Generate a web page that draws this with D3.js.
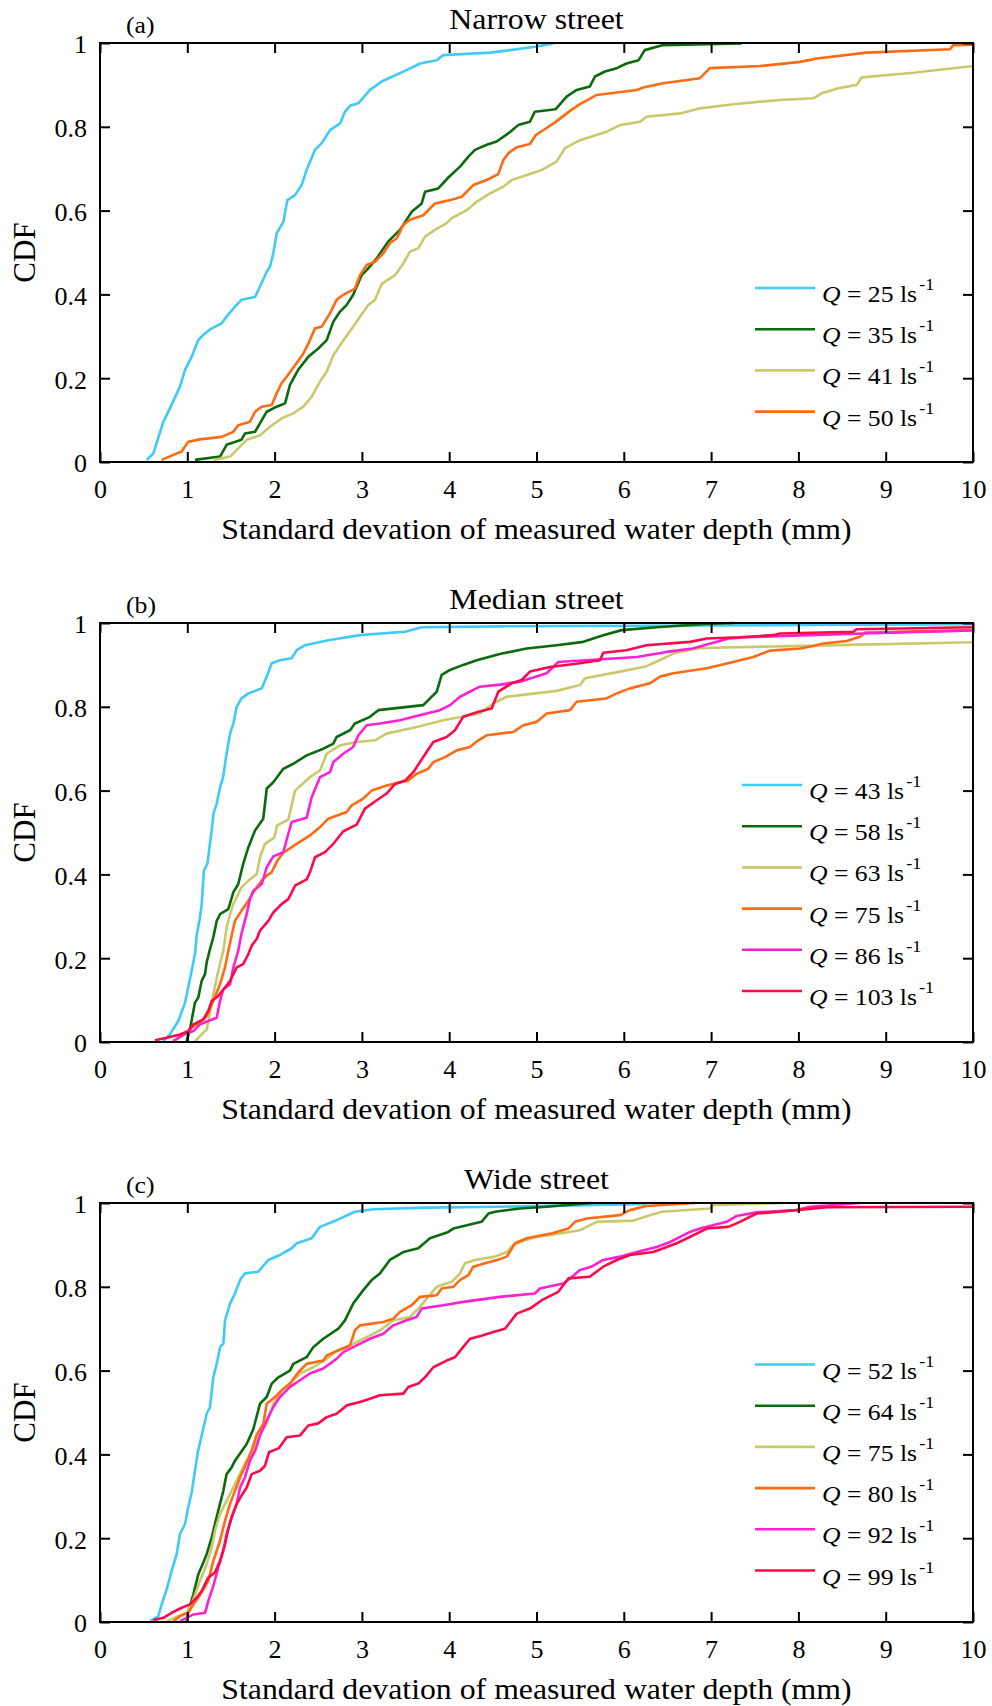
<!DOCTYPE html>
<html>
<head>
<meta charset="utf-8">
<script src="https://cdn.jsdelivr.net/npm/d3@7"></script>
<style>
  html, body { margin: 0; padding: 0; background: #fff; }
  svg text { font-family: "Liberation Serif", "Times New Roman", serif; fill: #000; }
</style>
</head>
<body>
<svg id="chart" width="992" height="1706"></svg>
<script>
// ---------------- DATA ----------------
const xTicks = [0, 1, 2, 3, 4, 5, 6, 7, 8, 9, 10];
const xTickLabels = ["0", "1", "2", "3", "4", "5", "6", "7", "8", "9", "10"];
const yTicks = [0, 0.2, 0.4, 0.6, 0.8, 1];
const yTickLabels = ["0", "0.2", "0.4", "0.6", "0.8", "1"];

const panelLetters = ["(a)", "(b)", "(c)"];
const panelTitles = ["Narrow street", "Median street", "Wide street"];
const xAxisTitle = "Standard devation of measured water depth (mm)";
const yAxisTitle = "CDF";

// Panel (a) Narrow street
const narrowQ = [25, 35, 41, 50];
const narrow25 = [[0.535,0.005],[0.61,0.02],[0.725,0.096],[0.76,0.11],[0.916,0.18],[0.974,0.22],[1.05,0.251],[1.126,0.291],[1.18,0.303],[1.28,0.319],[1.394,0.331],[1.45,0.347],[1.546,0.371],[1.62,0.387],[1.776,0.394],[1.813,0.41],[1.91,0.454],[1.947,0.466],[1.985,0.498],[2.024,0.546],[2.10,0.573],[2.146,0.625],[2.234,0.637],[2.31,0.661],[2.367,0.697],[2.463,0.745],[2.54,0.761],[2.635,0.792],[2.75,0.808],[2.806,0.836],[2.864,0.85],[2.959,0.856],[3.093,0.888],[3.226,0.908],[3.436,0.928],[3.589,0.943],[3.665,0.951],[3.857,0.959],[3.932,0.971],[4.467,0.977],[4.70,0.983],[4.98,0.991],[5.19,0.999]];
const narrow35 = [[1.088,0.005],[1.375,0.013],[1.45,0.041],[1.62,0.053],[1.66,0.068],[1.776,0.072],[1.91,0.12],[2.024,0.132],[2.12,0.14],[2.176,0.184],[2.27,0.22],[2.386,0.251],[2.50,0.271],[2.597,0.291],[2.673,0.335],[2.75,0.359],[2.826,0.375],[2.90,0.399],[2.997,0.446],[3.055,0.458],[3.17,0.486],[3.30,0.526],[3.436,0.554],[3.57,0.597],[3.685,0.617],[3.723,0.645],[3.875,0.653],[3.99,0.679],[4.124,0.705],[4.22,0.729],[4.295,0.745],[4.43,0.757],[4.544,0.765],[4.70,0.788],[4.79,0.804],[4.925,0.812],[4.98,0.836],[5.22,0.842],[5.345,0.872],[5.46,0.888],[5.61,0.896],[5.67,0.92],[5.785,0.932],[5.92,0.94],[6.03,0.951],[6.17,0.959],[6.24,0.983],[6.45,0.995],[7.35,0.999]];
const narrow41 = [[1.30,0.005],[1.49,0.013],[1.566,0.029],[1.68,0.053],[1.833,0.064],[1.947,0.084],[2.08,0.104],[2.214,0.116],[2.33,0.132],[2.425,0.156],[2.52,0.192],[2.597,0.216],[2.673,0.255],[2.75,0.279],[2.90,0.323],[2.98,0.347],[3.074,0.375],[3.15,0.387],[3.226,0.425],[3.38,0.446],[3.475,0.474],[3.55,0.502],[3.646,0.51],[3.723,0.538],[3.837,0.554],[3.97,0.57],[4.03,0.582],[4.20,0.601],[4.315,0.621],[4.467,0.641],[4.62,0.657],[4.716,0.673],[4.89,0.685],[5.06,0.697],[5.23,0.717],[5.326,0.749],[5.50,0.768],[5.80,0.788],[5.956,0.804],[6.186,0.812],[6.26,0.824],[6.644,0.832],[6.873,0.844],[7.254,0.854],[7.79,0.864],[8.17,0.868],[8.266,0.88],[8.457,0.892],[8.667,0.90],[8.725,0.918],[9.317,0.929],[10,0.945]];
const narrow50 = [[0.706,0.005],[0.84,0.017],[0.935,0.025],[1.01,0.048],[1.145,0.054],[1.394,0.06],[1.527,0.072],[1.584,0.088],[1.718,0.096],[1.776,0.12],[1.852,0.132],[1.967,0.136],[2.024,0.164],[2.08,0.188],[2.14,0.204],[2.234,0.231],[2.33,0.259],[2.405,0.291],[2.463,0.319],[2.54,0.323],[2.635,0.355],[2.71,0.387],[2.787,0.399],[2.92,0.414],[2.978,0.446],[3.055,0.47],[3.15,0.478],[3.245,0.498],[3.32,0.522],[3.40,0.534],[3.475,0.566],[3.55,0.578],[3.703,0.589],[3.837,0.617],[4.01,0.625],[4.143,0.633],[4.276,0.661],[4.43,0.673],[4.562,0.687],[4.62,0.72],[4.677,0.737],[4.773,0.751],[4.925,0.759],[4.99,0.78],[5.107,0.796],[5.21,0.81],[5.384,0.838],[5.498,0.854],[5.69,0.876],[6.15,0.888],[6.223,0.894],[6.45,0.904],[6.873,0.916],[6.987,0.94],[7.56,0.945],[8.02,0.955],[8.21,0.963],[8.78,0.977],[9.737,0.985],[9.775,0.995],[10,0.996]];

// Panel (b) Median street
const medianQ = [43, 58, 63, 75, 86, 103];
const median43 = [[0.725,0.002],[0.80,0.018],[0.897,0.05],[0.974,0.094],[1.01,0.13],[1.05,0.17],[1.088,0.21],[1.107,0.254],[1.145,0.297],[1.165,0.329],[1.19,0.409],[1.23,0.425],[1.25,0.457],[1.28,0.507],[1.30,0.545],[1.337,0.569],[1.375,0.608],[1.41,0.632],[1.45,0.688],[1.49,0.736],[1.527,0.76],[1.566,0.80],[1.62,0.82],[1.70,0.832],[1.852,0.844],[1.91,0.872],[1.967,0.904],[2.06,0.911],[2.196,0.916],[2.253,0.935],[2.348,0.947],[2.615,0.959],[2.978,0.971],[3.494,0.979],[3.685,0.99],[4.58,0.992],[7,0.994],[10,0.997]];
const median58 = [[0.993,0.002],[1.03,0.03],[1.088,0.094],[1.126,0.106],[1.165,0.146],[1.203,0.162],[1.222,0.19],[1.26,0.222],[1.298,0.25],[1.337,0.289],[1.375,0.305],[1.47,0.317],[1.527,0.357],[1.584,0.377],[1.64,0.425],[1.70,0.465],[1.776,0.505],[1.87,0.533],[1.91,0.605],[1.985,0.62],[2.10,0.652],[2.214,0.664],[2.367,0.684],[2.558,0.70],[2.673,0.712],[2.71,0.728],[2.864,0.744],[2.92,0.76],[3.093,0.776],[3.188,0.792],[3.703,0.804],[3.76,0.816],[3.857,0.836],[3.914,0.876],[4.01,0.888],[4.16,0.90],[4.315,0.911],[4.58,0.926],[4.888,0.939],[5.23,0.947],[5.536,0.955],[5.765,0.971],[5.976,0.983],[6.377,0.99],[6.95,0.998],[7.27,1.0]];
const median63 = [[1.088,0.002],[1.222,0.03],[1.298,0.114],[1.355,0.17],[1.413,0.218],[1.45,0.273],[1.49,0.305],[1.527,0.329],[1.62,0.369],[1.70,0.385],[1.795,0.401],[1.833,0.441],[1.89,0.473],[1.995,0.487],[2.03,0.517],[2.157,0.531],[2.234,0.60],[2.405,0.632],[2.52,0.648],[2.597,0.688],[2.75,0.708],[2.94,0.716],[3.15,0.72],[3.284,0.736],[3.627,0.752],[3.932,0.768],[4.35,0.784],[4.505,0.808],[4.66,0.824],[5.23,0.838],[5.50,0.852],[5.556,0.868],[5.956,0.884],[6.26,0.897],[6.41,0.911],[6.567,0.927],[6.835,0.939],[7.025,0.941],[8.17,0.946],[10,0.954]];
const median75 = [[0.84,0.002],[0.993,0.022],[1.07,0.038],[1.145,0.046],[1.222,0.062],[1.298,0.098],[1.375,0.138],[1.432,0.178],[1.47,0.218],[1.508,0.254],[1.546,0.289],[1.62,0.313],[1.70,0.337],[1.756,0.357],[1.852,0.385],[1.91,0.397],[1.967,0.405],[2.024,0.43],[2.10,0.452],[2.176,0.462],[2.253,0.473],[2.405,0.493],[2.52,0.513],[2.615,0.533],[2.826,0.549],[2.883,0.565],[3.016,0.581],[3.112,0.60],[3.284,0.612],[3.532,0.624],[3.627,0.64],[3.76,0.652],[3.818,0.668],[3.952,0.68],[4.086,0.696],[4.238,0.704],[4.334,0.72],[4.43,0.732],[4.735,0.74],[4.85,0.756],[5.0,0.764],[5.117,0.784],[5.384,0.792],[5.46,0.812],[5.80,0.82],[5.92,0.832],[6.07,0.844],[6.30,0.856],[6.415,0.872],[6.567,0.88],[6.95,0.892],[7.254,0.907],[7.483,0.919],[7.675,0.934],[8.02,0.939],[8.17,0.945],[8.285,0.951],[8.553,0.957],[8.705,0.967],[8.763,0.977],[10,0.983]];
const median86 = [[0.84,0.002],[0.955,0.018],[1.07,0.026],[1.145,0.042],[1.24,0.05],[1.337,0.058],[1.375,0.098],[1.413,0.126],[1.49,0.138],[1.527,0.178],[1.584,0.218],[1.62,0.258],[1.68,0.305],[1.718,0.341],[1.756,0.361],[1.852,0.377],[1.91,0.417],[1.985,0.443],[2.10,0.453],[2.157,0.497],[2.196,0.525],[2.367,0.535],[2.425,0.584],[2.52,0.632],[2.635,0.644],[2.673,0.668],[2.787,0.688],[2.90,0.704],[2.96,0.732],[3.055,0.756],[3.207,0.76],[3.436,0.768],[3.74,0.784],[3.895,0.792],[4.01,0.804],[4.124,0.824],[4.35,0.848],[4.58,0.853],[4.81,0.86],[5.117,0.88],[5.25,0.907],[6.15,0.919],[6.49,0.931],[6.79,0.939],[7.025,0.953],[7.20,0.963],[7.52,0.967],[8.744,0.975],[10,0.982]];
const median103 = [[0.63,0.004],[0.764,0.01],[0.916,0.018],[1.01,0.026],[1.07,0.042],[1.184,0.054],[1.24,0.074],[1.28,0.098],[1.355,0.11],[1.432,0.13],[1.49,0.146],[1.566,0.178],[1.64,0.186],[1.70,0.21],[1.738,0.23],[1.795,0.246],[1.833,0.266],[1.928,0.289],[1.985,0.309],[2.08,0.329],[2.157,0.341],[2.234,0.373],[2.367,0.388],[2.405,0.405],[2.463,0.441],[2.577,0.453],[2.673,0.473],[2.787,0.503],[2.94,0.519],[3.035,0.557],[3.17,0.577],[3.284,0.593],[3.38,0.616],[3.494,0.624],[3.589,0.644],[3.703,0.68],[3.818,0.716],[3.971,0.728],[4.066,0.744],[4.16,0.776],[4.334,0.788],[4.486,0.796],[4.563,0.836],[4.716,0.856],[4.83,0.864],[4.925,0.884],[5.155,0.895],[5.498,0.904],[5.727,0.911],[5.765,0.929],[6.03,0.935],[6.26,0.947],[6.758,0.955],[6.95,0.963],[7.33,0.966],[7.713,0.971],[7.79,0.975],[8.63,0.979],[8.667,0.985],[10,0.99]];

// Panel (c) Wide street
const wideQ = [52, 64, 75, 80, 92, 99];
const wide52 = [[0.573,0.002],[0.668,0.014],[0.706,0.042],[0.764,0.078],[0.821,0.122],[0.878,0.162],[0.916,0.21],[0.974,0.234],[1.01,0.273],[1.05,0.309],[1.088,0.361],[1.12,0.405],[1.165,0.445],[1.222,0.497],[1.26,0.513],[1.298,0.584],[1.337,0.616],[1.375,0.656],[1.413,0.664],[1.432,0.72],[1.49,0.76],[1.546,0.784],[1.604,0.816],[1.66,0.832],[1.813,0.836],[1.928,0.864],[2.062,0.876],[2.196,0.892],[2.253,0.904],[2.425,0.916],[2.52,0.943],[2.71,0.959],[2.92,0.979],[3.13,0.985],[3.74,0.989],[4.58,0.991],[6.26,0.998]];
const wide64 = [[0.993,0.002],[1.01,0.026],[1.07,0.066],[1.126,0.114],[1.184,0.142],[1.222,0.162],[1.28,0.202],[1.317,0.234],[1.355,0.266],[1.413,0.313],[1.45,0.353],[1.508,0.369],[1.546,0.385],[1.60,0.401],[1.68,0.425],[1.756,0.46],[1.833,0.521],[1.91,0.537],[1.967,0.569],[2.043,0.584],[2.176,0.60],[2.214,0.616],[2.367,0.632],[2.443,0.656],[2.558,0.676],[2.73,0.70],[2.806,0.72],[2.90,0.76],[3.016,0.792],[3.112,0.816],[3.207,0.832],[3.32,0.864],[3.475,0.883],[3.646,0.892],[3.78,0.916],[3.99,0.931],[4.047,0.939],[4.37,0.955],[4.45,0.975],[4.525,0.979],[4.81,0.987],[5.117,0.991],[5.63,1.0]];
const wide75 = [[0.764,0.002],[0.897,0.014],[0.993,0.022],[1.07,0.054],[1.145,0.098],[1.222,0.138],[1.28,0.178],[1.317,0.218],[1.375,0.258],[1.45,0.289],[1.508,0.313],[1.584,0.345],[1.68,0.385],[1.756,0.41],[1.833,0.449],[1.91,0.473],[1.985,0.521],[2.08,0.553],[2.176,0.569],[2.29,0.593],[2.443,0.608],[2.597,0.628],[2.71,0.648],[2.864,0.66],[3.055,0.68],[3.207,0.696],[3.36,0.72],[3.55,0.728],[3.665,0.752],[3.76,0.776],[3.857,0.80],[4.03,0.812],[4.124,0.832],[4.18,0.856],[4.295,0.864],[4.525,0.872],[4.66,0.883],[4.735,0.90],[4.87,0.911],[5.0,0.919],[5.27,0.927],[5.498,0.935],[5.575,0.943],[5.69,0.955],[6.11,0.958],[6.30,0.971],[6.434,0.979],[6.987,0.987],[7.025,0.995],[7.81,1.0]];
const wide80 = [[0.84,0.002],[0.916,0.014],[1.01,0.022],[1.07,0.042],[1.126,0.058],[1.184,0.078],[1.24,0.098],[1.298,0.146],[1.375,0.194],[1.432,0.242],[1.49,0.282],[1.546,0.313],[1.604,0.345],[1.68,0.381],[1.738,0.41],[1.795,0.447],[1.87,0.473],[1.91,0.521],[2.005,0.537],[2.08,0.553],[2.176,0.569],[2.272,0.596],[2.367,0.616],[2.558,0.624],[2.597,0.636],[2.73,0.648],[2.864,0.66],[2.92,0.696],[2.978,0.708],[3.245,0.716],[3.36,0.724],[3.436,0.74],[3.57,0.756],[3.665,0.776],[3.857,0.78],[3.914,0.796],[4.047,0.80],[4.124,0.816],[4.22,0.828],[4.276,0.848],[4.41,0.856],[4.58,0.866],[4.66,0.872],[4.754,0.904],[4.888,0.916],[5.06,0.923],[5.174,0.927],[5.365,0.939],[5.44,0.955],[5.575,0.963],[5.956,0.971],[6.07,0.983],[6.26,0.993],[6.815,1.0]];
const wide92 = [[0.916,0.002],[0.993,0.01],[1.07,0.018],[1.203,0.022],[1.24,0.05],[1.298,0.086],[1.355,0.13],[1.413,0.17],[1.45,0.21],[1.508,0.25],[1.566,0.282],[1.604,0.321],[1.66,0.345],[1.718,0.385],[1.78,0.41],[1.833,0.445],[1.91,0.481],[1.985,0.513],[2.062,0.537],[2.176,0.561],[2.29,0.577],[2.405,0.593],[2.558,0.605],[2.71,0.628],[2.787,0.644],[2.94,0.66],[3.093,0.676],[3.245,0.688],[3.36,0.708],[3.513,0.72],[3.627,0.728],[3.685,0.748],[3.932,0.756],[4.16,0.764],[4.58,0.776],[4.98,0.784],[5.04,0.796],[5.307,0.808],[5.384,0.82],[5.498,0.84],[5.63,0.848],[5.765,0.864],[5.956,0.872],[6.15,0.883],[6.377,0.895],[6.53,0.907],[6.758,0.931],[6.873,0.939],[7.178,0.955],[7.293,0.969],[7.52,0.978],[7.98,0.983],[8.133,0.991],[8.705,1.0]];
const wide99 = [[0.61,0.004],[0.725,0.01],[0.821,0.022],[0.936,0.034],[1.03,0.042],[1.107,0.058],[1.165,0.074],[1.24,0.106],[1.317,0.118],[1.375,0.146],[1.432,0.186],[1.47,0.222],[1.508,0.25],[1.566,0.282],[1.62,0.301],[1.68,0.321],[1.738,0.353],[1.833,0.361],[1.89,0.373],[1.935,0.405],[2.05,0.415],[2.138,0.441],[2.29,0.445],[2.386,0.469],[2.50,0.474],[2.597,0.489],[2.71,0.497],[2.826,0.517],[2.978,0.525],[3.093,0.533],[3.207,0.541],[3.475,0.545],[3.532,0.561],[3.646,0.569],[3.723,0.584],[3.818,0.608],[3.971,0.624],[4.066,0.632],[4.143,0.652],[4.238,0.676],[4.37,0.683],[4.505,0.692],[4.64,0.70],[4.773,0.736],[4.925,0.748],[5.06,0.768],[5.25,0.788],[5.365,0.82],[5.61,0.824],[5.765,0.848],[5.92,0.864],[6.07,0.876],[6.338,0.883],[6.606,0.904],[6.796,0.923],[6.95,0.939],[7.197,0.943],[7.33,0.955],[7.52,0.975],[7.79,0.979],[7.98,0.983],[8.324,0.99],[10,0.991]];

// ---------------- STYLE / LAYOUT ----------------
const colors = {
  cyan: "#3fcaf8", green: "#0b6a0b", khaki: "#c9c96c",
  orange: "#ff6a12", magenta: "#ff20d2", red: "#ff0a48"
};

const panels = [
  { top: 43,  series: [narrow25, narrow35, narrow41, narrow50], q: narrowQ,
    cols: [colors.cyan, colors.green, colors.khaki, colors.orange], legX: 755, legY: 245 },
  { top: 623, series: [median43, median58, median63, median75, median86, median103], q: medianQ,
    cols: [colors.cyan, colors.green, colors.khaki, colors.orange, colors.magenta, colors.red], legX: 742, legY: 162 },
  { top: 1203, series: [wide52, wide64, wide75, wide80, wide92, wide99], q: wideQ,
    cols: [colors.cyan, colors.green, colors.khaki, colors.orange, colors.magenta, colors.red], legX: 755, legY: 161.5 }
];

const left = 100, right = 973, ph = 419;
const svg = d3.select("#chart");

// text with a slight horizontal stretch (the original figure's lettering is wider than Times)
function stretchedText(g, x, y, size, sx, anchor, str) {
  return g.append("text")
    .attr("transform", `translate(${x},${y}) scale(${sx},1)`)
    .attr("text-anchor", anchor).attr("font-size", size).text(str);
}

panels.forEach((p, pi) => {
  const x = d3.scaleLinear().domain([0, 10]).range([left, right]);
  const y = d3.scaleLinear().domain([0, 1]).range([p.top + ph, p.top]);
  const g = svg.append("g");

  const clipId = "clip" + pi;
  svg.append("clipPath").attr("id", clipId).append("rect")
    .attr("x", left).attr("y", p.top - 2).attr("width", right - left).attr("height", ph + 4);

  const line = d3.line().x(d => x(d[0])).y(d => y(d[1]));
  const lg = g.append("g").attr("clip-path", `url(#${clipId})`);
  p.series.forEach((s, i) => {
    lg.append("path").datum(s).attr("d", line)
      .attr("fill", "none").attr("stroke", p.cols[i])
      .attr("stroke-width", 2.6).attr("stroke-linejoin", "round");
  });

  const bottom = d3.axisBottom(x).tickValues(xTicks).tickSize(-10).tickSizeOuter(0).tickPadding(18)
    .tickFormat((d, i) => xTickLabels[i]);
  const top = d3.axisTop(x).tickValues(xTicks).tickSize(-10).tickSizeOuter(0).tickFormat("");
  const leftAx = d3.axisLeft(y).tickValues(yTicks).tickSize(-10).tickSizeOuter(0).tickPadding(13)
    .tickFormat((d, i) => yTickLabels[i]);
  const rightAx = d3.axisRight(y).tickValues(yTicks).tickSize(-10).tickSizeOuter(0).tickFormat("");

  const styleAxis = sel => {
    sel.select(".domain").remove();
    sel.selectAll(".tick line").attr("stroke", "#000").attr("stroke-width", 2);
    sel.selectAll(".tick text").attr("font-family", "Liberation Serif, serif").attr("font-size", 26).attr("fill", "#000");
  };
  g.append("g").attr("transform", `translate(0,${p.top + ph})`).call(bottom).call(styleAxis);
  g.append("g").attr("transform", `translate(0,${p.top})`).call(top).call(styleAxis);
  g.append("g").attr("transform", `translate(${left},0)`).call(leftAx).call(styleAxis)
    .selectAll(".tick text").attr("dy", "0.38em");
  g.append("g").attr("transform", `translate(${right},0)`).call(rightAx).call(styleAxis);

  g.append("rect").attr("x", left).attr("y", p.top).attr("width", right - left).attr("height", ph)
    .attr("fill", "none").attr("stroke", "#000").attr("stroke-width", 2);

  // titles and labels
  stretchedText(g, (left + right) / 2, p.top - 14, 29, 1.1, "middle", panelTitles[pi]);
  stretchedText(g, 126, p.top - 10, 23, 1.12, "start", panelLetters[pi]);
  stretchedText(g, (left + right) / 2, p.top + ph + 77, 30, 1.06, "middle", xAxisTitle);
  g.append("text").attr("transform", `translate(35,${p.top + ph / 2}) rotate(-90)`)
    .attr("text-anchor", "middle").attr("font-size", 31).text(yAxisTitle);

  // legend
  p.q.forEach((q, i) => {
    const ly = p.top + p.legY + i * 41.2;
    g.append("line").attr("x1", p.legX).attr("x2", p.legX + 60).attr("y1", ly).attr("y2", ly)
      .attr("stroke", p.cols[i]).attr("stroke-width", 2.6);
    const t = g.append("text")
      .attr("transform", `translate(${p.legX + 67},${ly + 14}) scale(1.07,1)`)
      .attr("font-size", 24);
    t.append("tspan").attr("font-style", "italic").text("Q");
    t.append("tspan").text(" = " + q + " ls");
    t.append("tspan").attr("font-size", 17).attr("dy", -12).attr("dx", 2).text("-1");
  });
});
</script>
</body>
</html>
